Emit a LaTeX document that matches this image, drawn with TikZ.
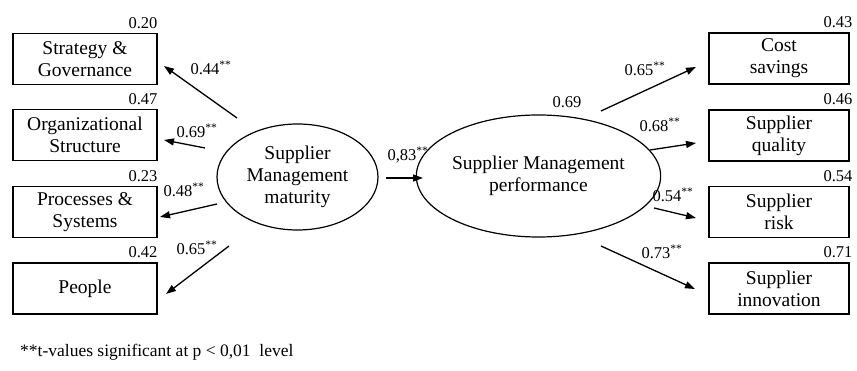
\documentclass[tikz,border=0pt]{standalone}
\usepackage{fontspec}
\setmainfont{Liberation Serif}
\usetikzlibrary{arrows.meta,shapes.geometric}
\tikzset{
  obsbox/.style={draw,line width=1.3pt,rectangle,minimum width=144pt,minimum height=51pt,align=center,inner sep=1pt,font=\fontsize{19.5}{22}\selectfont},
  latent/.style={draw,line width=1.2pt,ellipse,align=center,inner sep=0pt,font=\fontsize{19.5}{22}\selectfont},
  coef/.style={font=\fontsize{16.5}{18}\selectfont,inner sep=0pt},
  rsq/.style={font=\fontsize{16.5}{18}\selectfont,inner sep=0pt,anchor=south east},
  path/.style={line width=1.3pt,-{Triangle[length=10pt,width=7pt]}}
}
\newcommand{\sig}{\textsuperscript{**}}
\begin{document}
\begin{tikzpicture}[x=1pt,y=-1pt]
\useasboundingbox (0,0) rectangle (857,371);
% left boxes
\node[obsbox] (sg) at (85,59) {Strategy \&\\Governance};
\node[obsbox] (os) at (85,135) {Organizational\\Structure};
\node[obsbox] (ps) at (85,212) {Processes \&\\Systems};
\node[obsbox] (pe) at (85,288.5) {People};
% right boxes
\node[obsbox,minimum width=140pt] (cs) at (779,58.5) {Cost\\savings};
\node[obsbox,minimum width=140pt] (sq) at (779,135.5) {Supplier\\quality};
\node[obsbox,minimum width=140pt] (sr) at (779,212) {Supplier\\risk};
\node[obsbox,minimum width=140pt] (si) at (779,288.5) {Supplier\\innovation};
% ellipses
\node[latent,minimum width=161pt,minimum height=106pt] (mat) at (297.5,177) {Supplier\\Management\\maturity};
\node[latent,minimum width=219pt,minimum height=122pt] (perf) at (538.5,176) {Supplier Management\\performance};
% R squared
\node[rsq] (r1) at ([yshift=4pt]sg.north east) {0.20};
\node[rsq] (r2) at ([yshift=4pt]os.north east) {0.47};
\node[rsq] (r3) at ([yshift=4pt]ps.north east) {0.23};
\node[rsq] (r4) at ([yshift=4pt]pe.north east) {0.42};
\node[rsq] (r5) at ([xshift=3pt,yshift=4pt]cs.north east) {0.43};
\node[rsq] (r6) at ([xshift=3pt,yshift=4pt]sq.north east) {0.46};
\node[rsq] (r7) at ([xshift=3pt,yshift=4pt]sr.north east) {0.54};
\node[rsq] (r8) at ([xshift=3pt,yshift=4pt]si.north east) {0.71};
\node[coef] (r9) at (567,102) {0.69};
% arrow end points
\coordinate (a1) at (237,118); \coordinate (b1) at (164,66);
\coordinate (a2) at (205,148); \coordinate (b2) at (164,140);
\coordinate (a3) at (217,204); \coordinate (b3) at (160,217);
\coordinate (a4) at (229,246); \coordinate (b4) at (166,294);
\coordinate (a5) at (386,178); \coordinate (b5) at (423,178);
\coordinate (a6) at (601,111); \coordinate (b6) at (696,67);
\coordinate (a7) at (650,150); \coordinate (b7) at (696,143);
\coordinate (a8) at (654,208); \coordinate (b8) at (696,218);
\coordinate (a9) at (601,246); \coordinate (b9) at (695,289);
\draw[path] (a1) -- (b1);
\draw[path] (a2) -- (b2);
\draw[path] (a3) -- (b3);
\draw[path] (a4) -- (b4);
\draw[path] (a5) -- (b5);
\draw[path] (a6) -- (b6);
\draw[path] (a7) -- (b7);
\draw[path] (a8) -- (b8);
\draw[path] (a9) -- (b9);
% coefficients
\node[coef] (c1) at (211,68) {0.44\sig};
\node[coef] (c2) at (197,131) {0.69\sig};
\node[coef] (c3) at (184,190) {0.48\sig};
\node[coef] (c4) at (197,248) {0.65\sig};
\node[coef] (c5) at (408,155) {0,83\sig};
\node[coef] (c6) at (645,69) {0.65\sig};
\node[coef] (c7) at (660,125) {0.68\sig};
\node[coef] (c8) at (673,195) {0.54\sig};
\node[coef] (c9) at (662,252) {0.73\sig};
% footnote
\node[coef,anchor=west,font=\fontsize{17.5}{19}\selectfont] (fn) at (20,352) {**t-values significant at p < 0,01 \ level};
\end{tikzpicture}
\end{document}
